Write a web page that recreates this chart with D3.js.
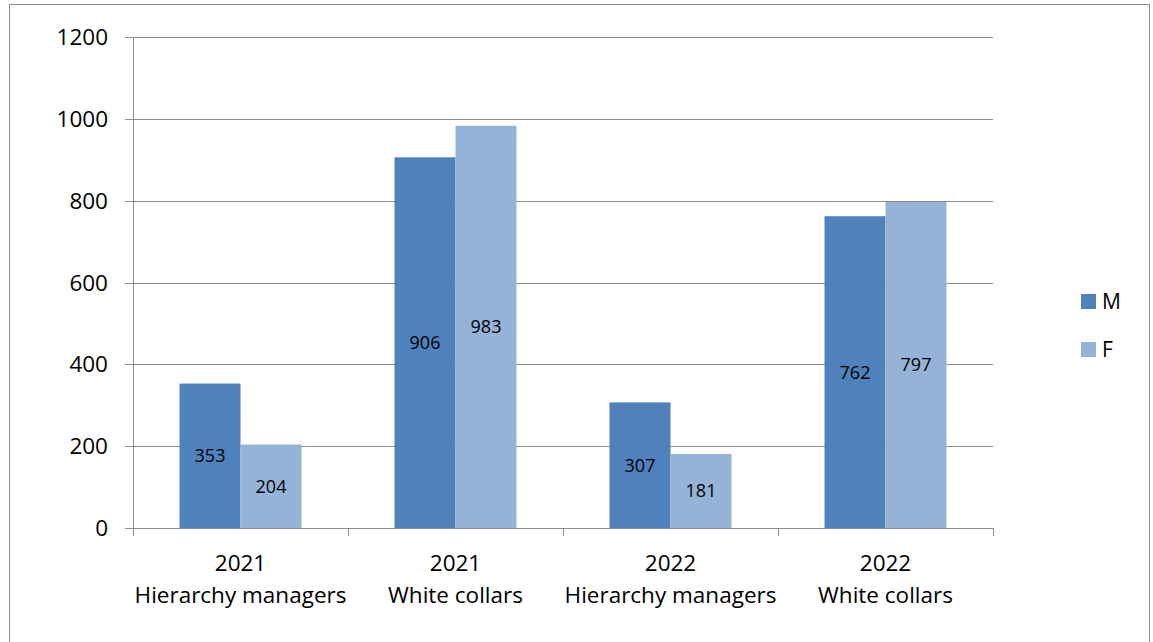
<!DOCTYPE html>
<html><head><meta charset="utf-8">
<script src="https://cdn.jsdelivr.net/npm/d3@7"></script>
<style>
html,body{margin:0;padding:0;background:#fff;}
svg{display:block;font-family:"Open Sans",Lato,sans-serif;}
</style></head>
<body><svg id="c" width="1153" height="642"></svg>
<script>
const categories = [["2021","Hierarchy managers"],["2021","White collars"],["2022","Hierarchy managers"],["2022","White collars"]];
const seriesNames = ["M","F"];
const valuesM = [353, 906, 307, 762];
const valuesF = [204, 983, 181, 797];
const yTicks = [0,200,400,600,800,1000,1200];
const colors = ["#4F81BD","#95B3D7"];

const svg = d3.select("#c");
svg.append("rect").attr("x",9.5).attr("y",4.5).attr("width",1140).attr("height",640)
  .attr("fill","#fff").attr("stroke","#8c8c8c").attr("stroke-width",1);

const pL=133, pR=993, pT=37, pB=528;
const x = d3.scaleBand().domain(d3.range(categories.length)).range([pL,pR]).paddingInner(0).paddingOuter(0);
const y = d3.scaleLinear().domain([0,1200]).range([pB,pT]);
const bw = 61;
const xs = d3.scaleBand().domain(seriesNames).range([0,bw*2]);

const g = svg.append("g");
g.selectAll("line.grid").data(yTicks).join("line")
  .attr("x1",pL-8).attr("x2",pR).attr("y1",d=>Math.round(y(d))+0.5).attr("y2",d=>Math.round(y(d))+0.5)
  .attr("stroke","#8c8c8c").attr("stroke-width",1);
g.append("line").attr("x1",pL+0.5).attr("x2",pL+0.5).attr("y1",pT).attr("y2",pB+8).attr("stroke","#8c8c8c");
const xt = d3.range(categories.length+1).map(i=> i<categories.length ? x(i) : pR);
g.selectAll("line.xt").data(xt).join("line")
  .attr("x1",d=>Math.round(d)+0.5).attr("x2",d=>Math.round(d)+0.5).attr("y1",pB).attr("y2",pB+8)
  .attr("stroke","#8c8c8c");
g.selectAll("text.yl").data(yTicks).join("text")
  .attr("x",pL-25).attr("y",d=>y(d)).attr("dy","0.36em").attr("text-anchor","end")
  .attr("font-size",22.5).attr("fill","#000").text(d=>d);

const data = [valuesM, valuesF];
data.forEach((vals,si)=>{
  const gx = (i)=> x(i) + (x.bandwidth()-bw*2)/2 + xs(seriesNames[si]);
  g.selectAll("rect.s"+si).data(vals).join("rect")
    .attr("x",(d,i)=>gx(i)).attr("width",xs.bandwidth())
    .attr("y",d=>y(d)).attr("height",d=>pB-y(d)).attr("fill",colors[si]);
  g.selectAll("text.l"+si).data(vals).join("text")
    .attr("x",(d,i)=>gx(i)+xs.bandwidth()/2).attr("y",d=>(y(d)+pB)/2).attr("dy","0.36em")
    .attr("text-anchor","middle").attr("font-size",18).attr("fill","#000").text(d=>d);
});

categories.forEach((c,i)=>{
  const t = g.append("text").attr("text-anchor","middle").attr("font-size",22.5).attr("fill","#000");
  t.append("tspan").attr("x",x(i)+x.bandwidth()/2).attr("y",571).text(c[0]);
  t.append("tspan").attr("x",x(i)+x.bandwidth()/2).attr("y",603).text(c[1]);
});

seriesNames.forEach((s,i)=>{
  const ly = 301 + i*48;
  svg.append("rect").attr("x",1081).attr("y",ly-7).attr("width",15).attr("height",15).attr("fill",colors[i]);
  svg.append("text").attr("x",1102).attr("y",ly).attr("dy","0.36em").attr("font-size",21).attr("fill","#000").text(s);
});
</script></body></html>
